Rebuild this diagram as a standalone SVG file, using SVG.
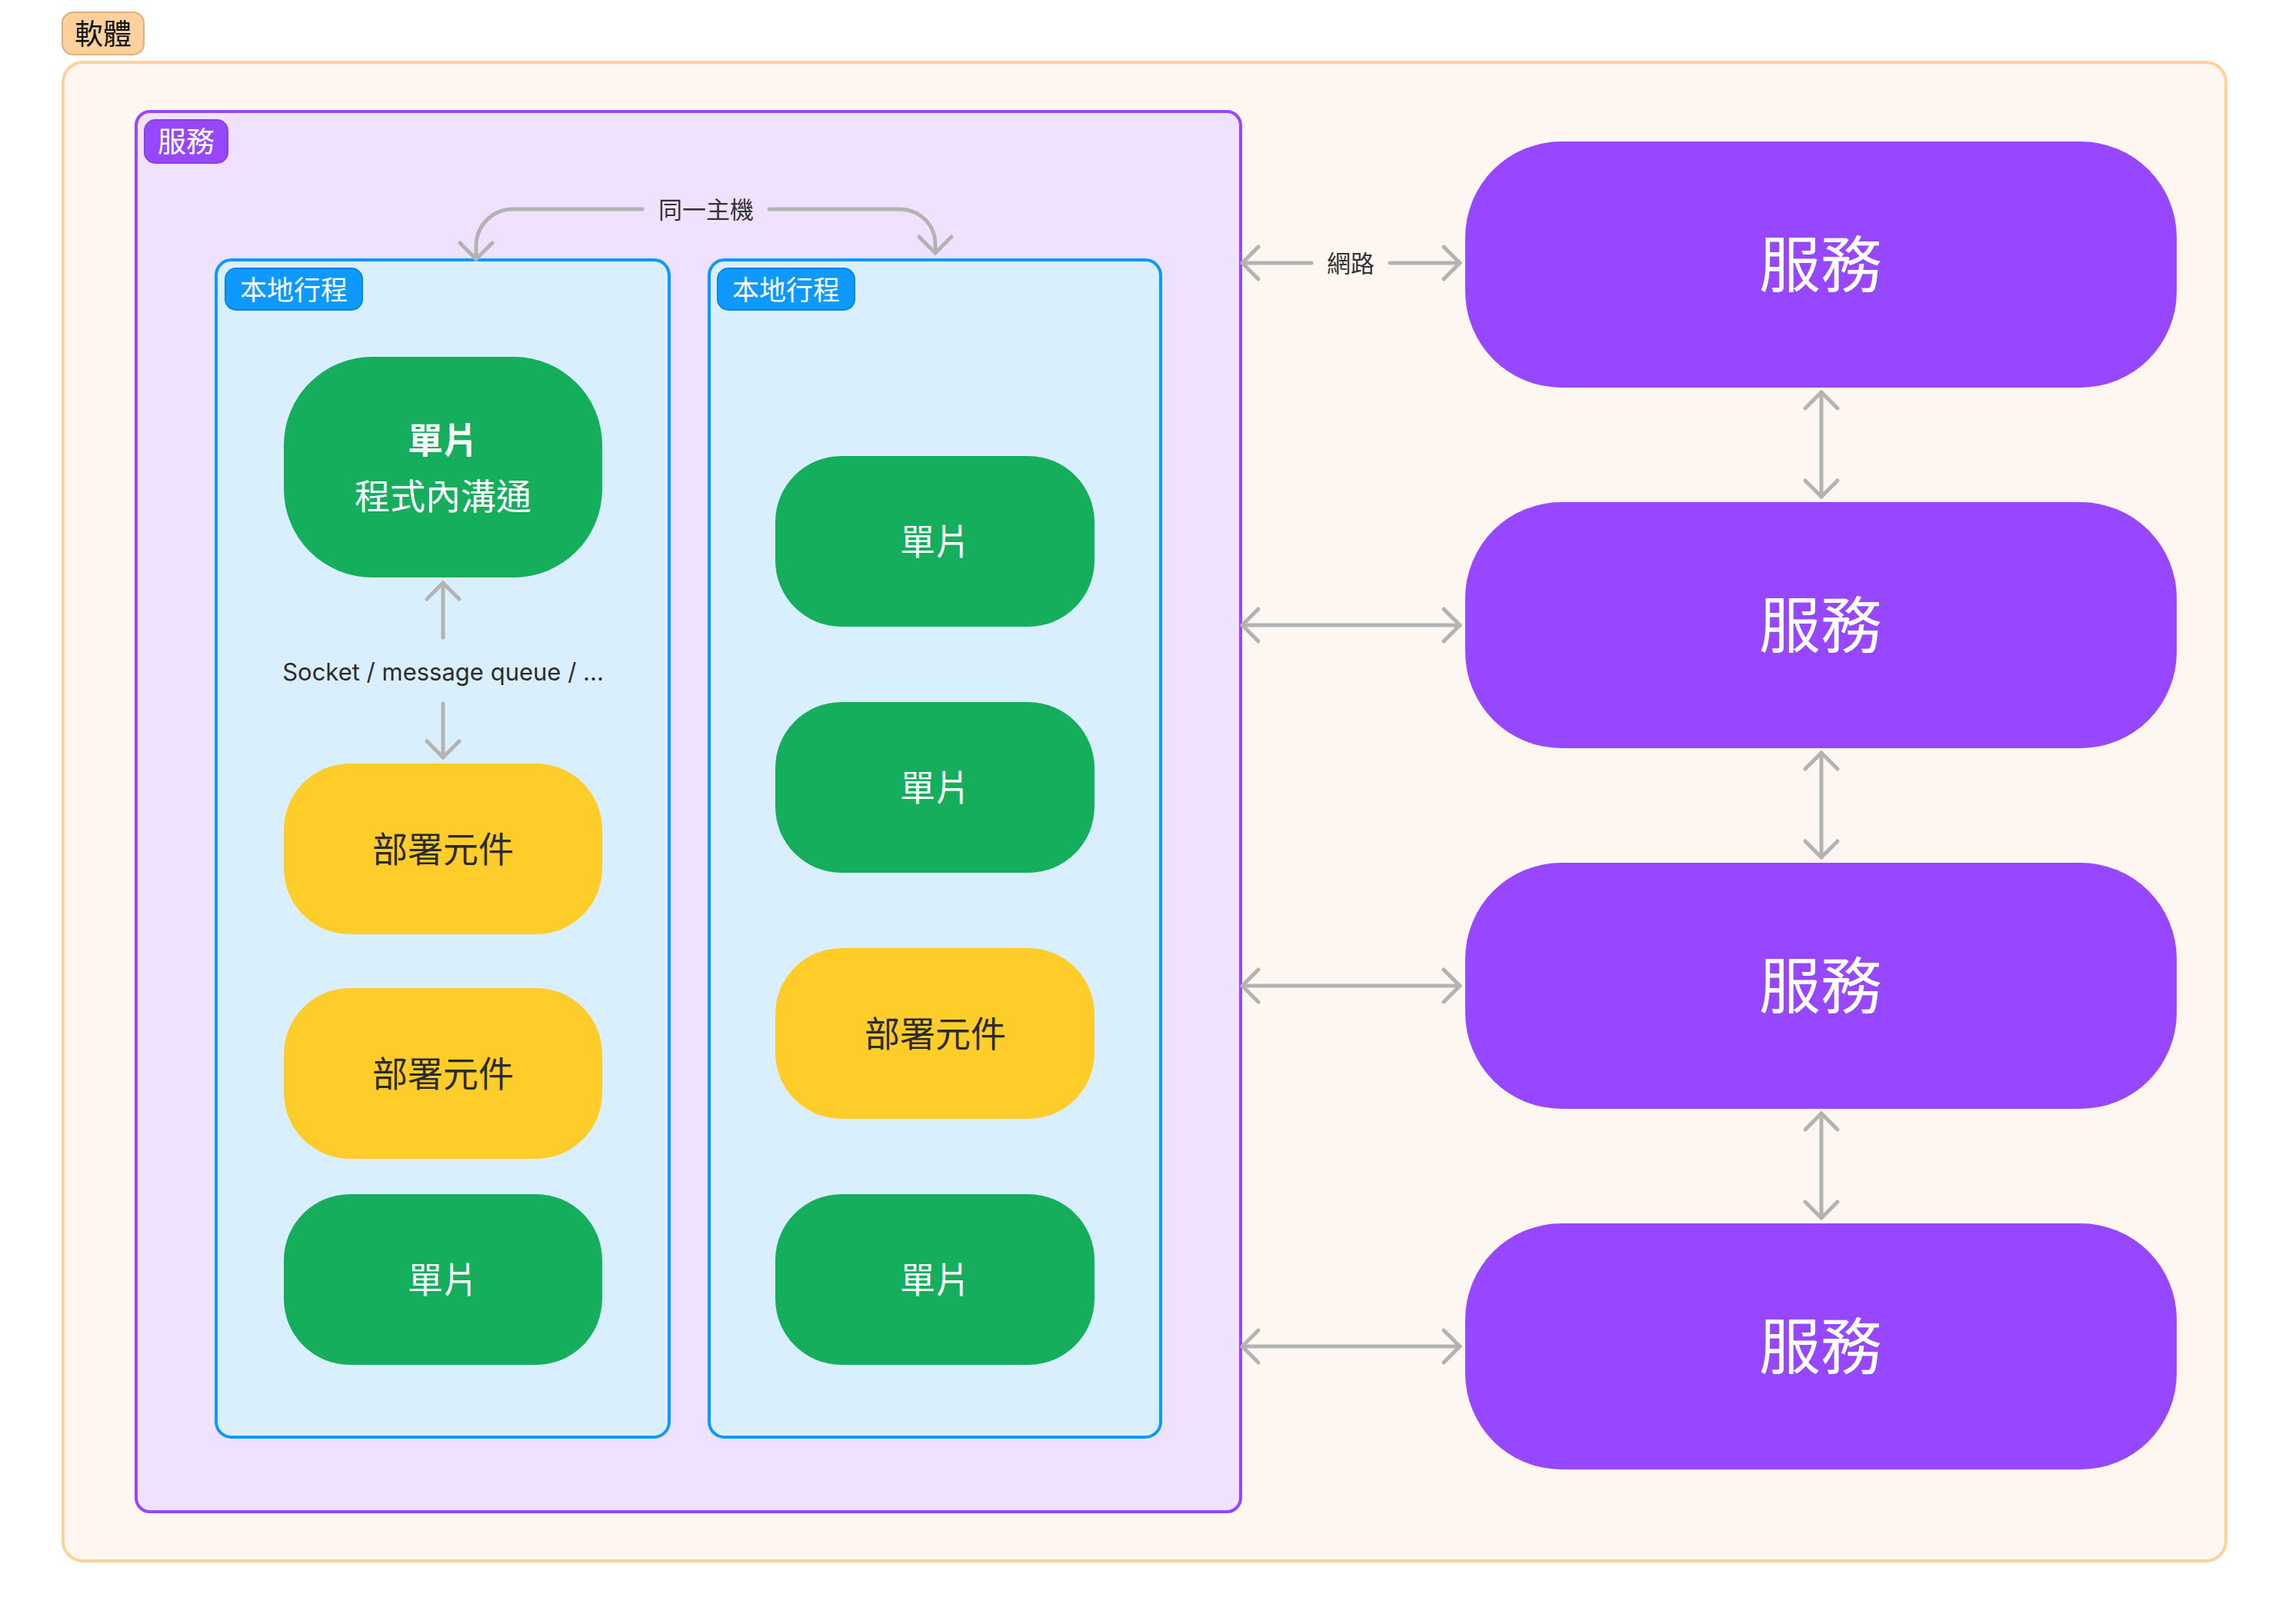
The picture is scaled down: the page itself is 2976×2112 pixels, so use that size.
<svg xmlns="http://www.w3.org/2000/svg" width="2976" height="2112" viewBox="0 0 2976 2112">
<style>
text{font-family:"Noto Sans CJK TC","Noto Sans",sans-serif;text-anchor:middle;dominant-baseline:central}
.lat{font-family:Inter,"Noto Sans CJK TC",sans-serif}
.conn{fill:none;stroke:#b3b3b3;stroke-width:5;stroke-linecap:round;stroke-linejoin:round}
.green{fill:#14ae5c}
.yellow{fill:#ffcd29}
.purple{fill:#9747ff}
.wt{fill:#ffffff;font-size:46px}
.dt{fill:#2b2b2b;font-size:46px}
.lbl{font-size:31px;fill:#333333}
.big{font-size:80px;fill:#ffffff}
</style>
<defs>
<marker id="ah" viewBox="-26 -26 32 52" refX="0" refY="0" markerWidth="32" markerHeight="52" markerUnits="userSpaceOnUse" orient="auto-start-reverse" overflow="visible">
<path d="M-21 -21 L0 0 L-21 21" fill="none" stroke="#b3b3b3" stroke-width="5" stroke-linecap="round" stroke-linejoin="round"/>
</marker>
</defs>
<rect width="2976" height="2112" fill="#ffffff"/>

<g id="software">
<rect x="82" y="81" width="2812" height="1949" rx="26" fill="#fef7f1" stroke="#fdd39c" stroke-width="4"/>
<rect x="81" y="16" width="106" height="55" rx="14" fill="#fdd19c" stroke="#dcb07e" stroke-width="2"/>
<text x="134" y="42" style="font-size:37px;fill:#111111">軟體</text>
</g>

<g id="service-main">
<rect x="177" y="145" width="1436" height="1821" rx="18" fill="#f0e2fe" stroke="#9747ff" stroke-width="4"/>
<rect x="188" y="156" width="108" height="56" rx="14" fill="#9747ff" stroke="#8a3ee8" stroke-width="2"/>
<text x="242" y="182" style="font-size:37px;fill:#ffffff">服務</text>
</g>

<g id="process-1">
<rect x="281" y="338" width="589" height="1531" rx="20" fill="#daeffd" stroke="#0d99ff" stroke-width="4"/>
<rect x="293" y="349" width="178" height="54" rx="14" fill="#0d99ff" stroke="#0b85e0" stroke-width="2"/>
<text x="382" y="374" style="font-size:35px;fill:#ffffff">本地行程</text>
</g>

<g id="process-2">
<rect x="922" y="338" width="587" height="1531" rx="20" fill="#daeffd" stroke="#0d99ff" stroke-width="4"/>
<rect x="933" y="349" width="178" height="54" rx="14" fill="#0d99ff" stroke="#0b85e0" stroke-width="2"/>
<text x="1022" y="374" style="font-size:35px;fill:#ffffff">本地行程</text>
</g>

<g id="monolith-main">
<rect class="green" x="369" y="464" width="414" height="287" rx="115"/>
<text class="wt" x="576" y="569" style="font-weight:bold">單片</text>
<text class="wt" x="576" y="642">程式內溝通</text>
</g>
<g id="component-l1">
<rect class="yellow" x="369" y="993" width="414" height="222" rx="86"/>
<text class="dt" x="576" y="1101">部署元件</text>
</g>
<g id="component-l2">
<rect class="yellow" x="369" y="1285" width="414" height="222" rx="86"/>
<text class="dt" x="576" y="1393">部署元件</text>
</g>
<g id="monolith-l3">
<rect class="green" x="369" y="1553" width="414" height="222" rx="86"/>
<text class="wt" x="576" y="1661">單片</text>
</g>

<g id="monolith-r1">
<rect class="green" x="1008" y="593" width="415" height="222" rx="86"/>
<text class="wt" x="1216" y="701">單片</text>
</g>
<g id="monolith-r2">
<rect class="green" x="1008" y="913" width="415" height="222" rx="86"/>
<text class="wt" x="1216" y="1021">單片</text>
</g>
<g id="component-r3">
<rect class="yellow" x="1008" y="1233" width="415" height="222" rx="86"/>
<text class="dt" x="1216" y="1341">部署元件</text>
</g>
<g id="monolith-r4">
<rect class="green" x="1008" y="1553" width="415" height="222" rx="86"/>
<text class="wt" x="1216" y="1661">單片</text>
</g>

<g id="service-1">
<rect class="purple" x="1905" y="184" width="925" height="320" rx="125"/>
<text class="big" x="2367" y="338">服務</text>
</g>
<g id="service-2">
<rect class="purple" x="1905" y="653" width="925" height="320" rx="125"/>
<text class="big" x="2367" y="807">服務</text>
</g>
<g id="service-3">
<rect class="purple" x="1905" y="1122" width="925" height="320" rx="125"/>
<text class="big" x="2367" y="1276">服務</text>
</g>
<g id="service-4">
<rect class="purple" x="1905" y="1591" width="925" height="320" rx="125"/>
<text class="big" x="2367" y="1745">服務</text>
</g>

<g id="connectors">
<path class="conn" d="M835 272 H667 A48 48 0 0 0 619 320 V337" marker-end="url(#ah)"/>
<path class="conn" d="M1000 272 H1168 C1196 272 1216 292 1216 318 V329" marker-end="url(#ah)"/>
<text class="lbl" x="918" y="270">同一主機</text>

<path class="conn" d="M576 829 V758" marker-end="url(#ah)"/>
<path class="conn" d="M576 915 V985" marker-end="url(#ah)"/>
<text class="lat" x="576" y="873" style="font-size:31px;fill:#2c2c2c">Socket / message queue / ...</text>

<path class="conn" d="M1705 342 H1615" marker-end="url(#ah)"/>
<path class="conn" d="M1807 342 H1898" marker-end="url(#ah)"/>
<text class="lbl" x="1756" y="340">網路</text>
<path class="conn" d="M1615 813 H1898" marker-start="url(#ah)" marker-end="url(#ah)"/>
<path class="conn" d="M1615 1282 H1898" marker-start="url(#ah)" marker-end="url(#ah)"/>
<path class="conn" d="M1615 1751 H1898" marker-start="url(#ah)" marker-end="url(#ah)"/>

<path class="conn" d="M2368 510 V646" marker-start="url(#ah)" marker-end="url(#ah)"/>
<path class="conn" d="M2368 979 V1115" marker-start="url(#ah)" marker-end="url(#ah)"/>
<path class="conn" d="M2368 1448 V1584" marker-start="url(#ah)" marker-end="url(#ah)"/>
</g>
</svg>
